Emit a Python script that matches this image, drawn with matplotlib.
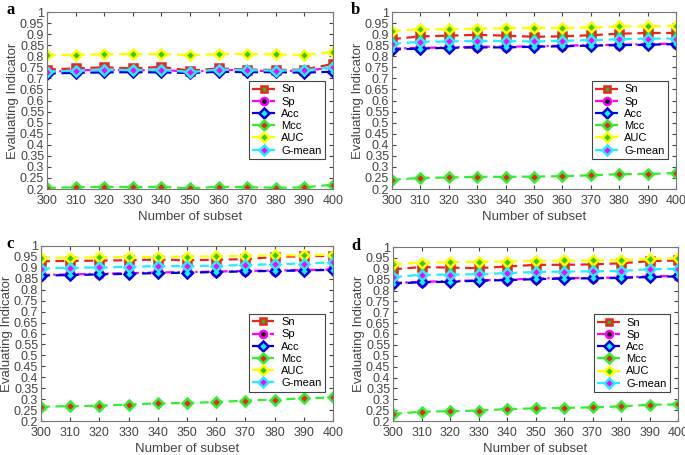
import matplotlib
matplotlib.use("Agg")
import matplotlib.pyplot as plt
import numpy as np

plt.rcParams["font.family"] = ["Liberation Sans", "DejaVu Sans"]

# x axis: number of subsets
SUBSETS = [300, 310, 320, 330, 340, 350, 360, 370, 380, 390, 400]
Y_TICKS = [0.2, 0.25, 0.3, 0.35, 0.4, 0.45, 0.5, 0.55, 0.6, 0.65, 0.7,
           0.75, 0.8, 0.85, 0.9, 0.95, 1.0]
PANEL_LABELS = ["a", "b", "c", "d"]
SERIES_NAMES = ["Sn", "Sp", "Acc", "Mcc", "AUC", "G-mean"]

# Panel a
a_sn = [0.740, 0.745, 0.750, 0.745, 0.752, 0.735, 0.745, 0.740, 0.738, 0.740, 0.765]
a_sp = [0.730, 0.735, 0.740, 0.735, 0.740, 0.728, 0.740, 0.735, 0.733, 0.735, 0.748]
a_acc = [0.722, 0.725, 0.727, 0.728, 0.727, 0.724, 0.730, 0.728, 0.728, 0.726, 0.730]
a_mcc = [0.205, 0.208, 0.210, 0.208, 0.210, 0.203, 0.210, 0.208, 0.206, 0.207, 0.220]
a_auc = [0.805, 0.807, 0.808, 0.810, 0.810, 0.805, 0.810, 0.810, 0.808, 0.806, 0.820]
a_gmean = [0.730, 0.735, 0.740, 0.737, 0.740, 0.728, 0.740, 0.737, 0.735, 0.737, 0.750]

# Panel b
b_sn = [0.877, 0.890, 0.893, 0.897, 0.893, 0.888, 0.890, 0.895, 0.902, 0.905, 0.905]
b_sp = [0.835, 0.838, 0.840, 0.843, 0.843, 0.845, 0.848, 0.850, 0.852, 0.855, 0.857]
b_acc = [0.830, 0.835, 0.838, 0.840, 0.840, 0.843, 0.845, 0.848, 0.850, 0.852, 0.855]
b_mcc = [0.242, 0.250, 0.252, 0.255, 0.255, 0.256, 0.258, 0.262, 0.267, 0.268, 0.272]
b_auc = [0.915, 0.922, 0.922, 0.925, 0.927, 0.928, 0.928, 0.930, 0.935, 0.935, 0.937]
b_gmean = [0.857, 0.865, 0.867, 0.870, 0.868, 0.867, 0.870, 0.873, 0.877, 0.880, 0.880]

# Panel c
c_sn = [0.930, 0.932, 0.933, 0.935, 0.938, 0.935, 0.937, 0.940, 0.950, 0.953, 0.955]
c_sp = [0.868, 0.870, 0.873, 0.876, 0.879, 0.881, 0.883, 0.886, 0.888, 0.890, 0.893]
c_acc = [0.865, 0.867, 0.870, 0.873, 0.876, 0.878, 0.881, 0.884, 0.886, 0.888, 0.891]
c_mcc = [0.265, 0.268, 0.270, 0.275, 0.281, 0.282, 0.287, 0.293, 0.298, 0.303, 0.308]
c_auc = [0.945, 0.947, 0.948, 0.950, 0.950, 0.952, 0.953, 0.955, 0.957, 0.958, 0.960]
c_gmean = [0.897, 0.900, 0.902, 0.905, 0.908, 0.908, 0.910, 0.913, 0.917, 0.920, 0.925]

# Panel d
d_sn = [0.897, 0.908, 0.905, 0.903, 0.910, 0.918, 0.918, 0.920, 0.925, 0.935, 0.938]
d_sp = [0.835, 0.840, 0.843, 0.847, 0.850, 0.855, 0.857, 0.858, 0.860, 0.865, 0.867]
d_acc = [0.832, 0.838, 0.840, 0.845, 0.848, 0.852, 0.855, 0.856, 0.858, 0.862, 0.865]
d_mcc = [0.232, 0.243, 0.245, 0.248, 0.255, 0.258, 0.260, 0.263, 0.267, 0.275, 0.276]
d_auc = [0.922, 0.928, 0.930, 0.932, 0.933, 0.937, 0.938, 0.938, 0.940, 0.945, 0.948]
d_gmean = [0.862, 0.872, 0.873, 0.875, 0.880, 0.885, 0.887, 0.888, 0.890, 0.898, 0.900]

PANELS = [
    [a_sn, a_sp, a_acc, a_mcc, a_auc, a_gmean],
    [b_sn, b_sp, b_acc, b_mcc, b_auc, b_gmean],
    [c_sn, c_sp, c_acc, c_mcc, c_auc, c_gmean],
    [d_sn, d_sp, d_acc, d_mcc, d_auc, d_gmean],
]

# line colour, line style, marker, marker face colour, marker size
STYLES = [
    ("#e8261c", (0, (4, 2.5)), "s", "#22c022", 5.5),
    ("#ff00ff", (0, (4, 1.5, 1, 1.5)), "o", "black", 6),
    ("#0000dd", (0, (4, 2.5)), "D", "cyan", 5.5),
    ("#33ee33", (0, (4, 2.5)), "D", "#e8261c", 5.5),
    ("#ffff00", (0, (4, 2.5)), "D", "#33cc00", 5.5),
    ("#22eeff", (0, (4, 2.5)), "D", "#ff00ff", 5.5),
]

# axes boxes in pixels (left, top, right, bottom)
W, H = 685, 455
BOXES = [
    (47, 12, 333, 189),
    (392, 12, 676, 189),
    (41, 246, 333, 421),
    (393, 247, 678, 421),
]
LABEL_POS = [(6, 2), (351, 2), (6, 236), (351, 238)]

fig = plt.figure(figsize=(W / 100, H / 100), dpi=100)

for i, series in enumerate(PANELS):
    x0, y0, x1, y1 = BOXES[i]
    ax = fig.add_axes([x0 / W, 1 - y1 / H, (x1 - x0) / W, (y1 - y0) / H])
    for name, vals, (col, ls, mk, fc, ms) in zip(SERIES_NAMES, series, STYLES):
        ax.plot(SUBSETS, vals, color=col, linestyle=ls, linewidth=1.6,
                marker=mk, markersize=ms, markerfacecolor=fc,
                markeredgecolor=col, markeredgewidth=1.8, label=name)
    ax.set_xlim(300, 400)
    ax.set_ylim(0.2, 1.0)
    ax.set_xticks(SUBSETS)
    ax.set_yticks(Y_TICKS)
    ax.set_yticklabels(["%g" % t for t in Y_TICKS])
    ax.tick_params(direction="in", length=3, labelsize=9, colors="#444444",
                   top=True, right=True, pad=2)
    ax.tick_params(axis="x", pad=4)
    for s in ax.spines.values():
        s.set_color("#777777")
        s.set_linewidth(0.8)
    ax.set_xlabel("Number of subset", fontsize=9.5, color="#444444", labelpad=3)
    ax.set_ylabel("Evaluating Indicator", fontsize=9.5, color="#444444", labelpad=1)
    leg = ax.legend(loc="center right", bbox_to_anchor=(0.972, 0.39),
                    borderaxespad=0, fontsize=8, handlelength=2.0,
                    handletextpad=0.6, labelspacing=0.2, borderpad=0.3,
                    markerscale=0.85, fancybox=False, framealpha=1)
    leg.get_frame().set_edgecolor("#444444")
    leg.get_frame().set_linewidth(0.8)
    lx, ly = LABEL_POS[i]
    fig.text(lx / W, 1 - ly / H, PANEL_LABELS[i], fontsize=12, fontweight="bold",
             family=["Liberation Serif", "DejaVu Serif"], va="top")

fig.savefig("out.png", dpi=100)
